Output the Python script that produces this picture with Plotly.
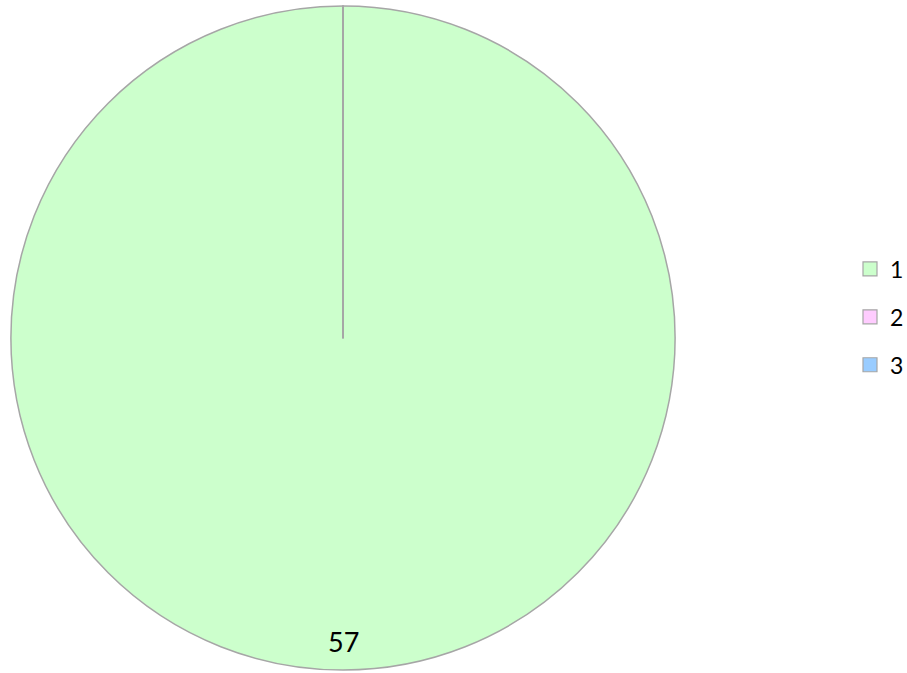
import plotly.graph_objects as go

labels = ["1", "2", "3"]
values = [57, 0, 0]
colors = ["#CCFFCC", "#FFCCFF", "#99CCFF"]

W, H = 907, 673
cx, cy, r = 343, 338, 332  # pixel geometry of pie
edge = "#A6A6A6"

fig = go.Figure()
fig.add_trace(go.Pie(
    labels=labels, values=values, sort=False, direction="clockwise", rotation=0,
    marker=dict(colors=colors, line=dict(color=edge, width=1.5)),
    textinfo="none", hoverinfo="label+value", showlegend=False,
    domain=dict(x=[(cx - r) / W, (cx + r) / W], y=[(H - cy - r) / H, (H - cy + r) / H]),
))

for i, (lab, col) in enumerate(zip(labels, colors)):
    fig.add_trace(go.Scatter(
        x=[None], y=[None], mode="markers", name=lab, legendgroup=lab,
        marker=dict(symbol="square", size=14, color=col, line=dict(color=edge, width=1.2)),
    ))

# radial border line at slice start (12 o'clock)
fig.add_shape(type="line", xref="paper", yref="paper",
              x0=cx / W, x1=cx / W, y0=(H - cy) / H, y1=(H - cy + r) / H,
              line=dict(color=edge, width=2))

fig.add_annotation(text=str(values[0]), xref="paper", yref="paper",
                   x=cx / W, y=(H - 641) / H, xanchor="center", yanchor="middle",
                   showarrow=False,
                   font=dict(size=27, color="#000000", family="Lato"))

fig.update_layout(
    width=W, height=H, margin=dict(l=0, r=0, t=0, b=0, autoexpand=False),
    paper_bgcolor="white", plot_bgcolor="white",
    xaxis=dict(visible=False), yaxis=dict(visible=False),
    font=dict(family="Lato", size=22, color="#000000"),
    legend=dict(x=850 / W, y=(H - 317) / H, xanchor="left", yanchor="middle",
                tracegroupgap=15, itemwidth=30, bgcolor="rgba(0,0,0,0)",
                font=dict(family="Lato", size=23, color="#000000")),
)
fig.write_html("out.html", config={"displayModeBar": False},
               post_script="document.body.style.margin='0';")
